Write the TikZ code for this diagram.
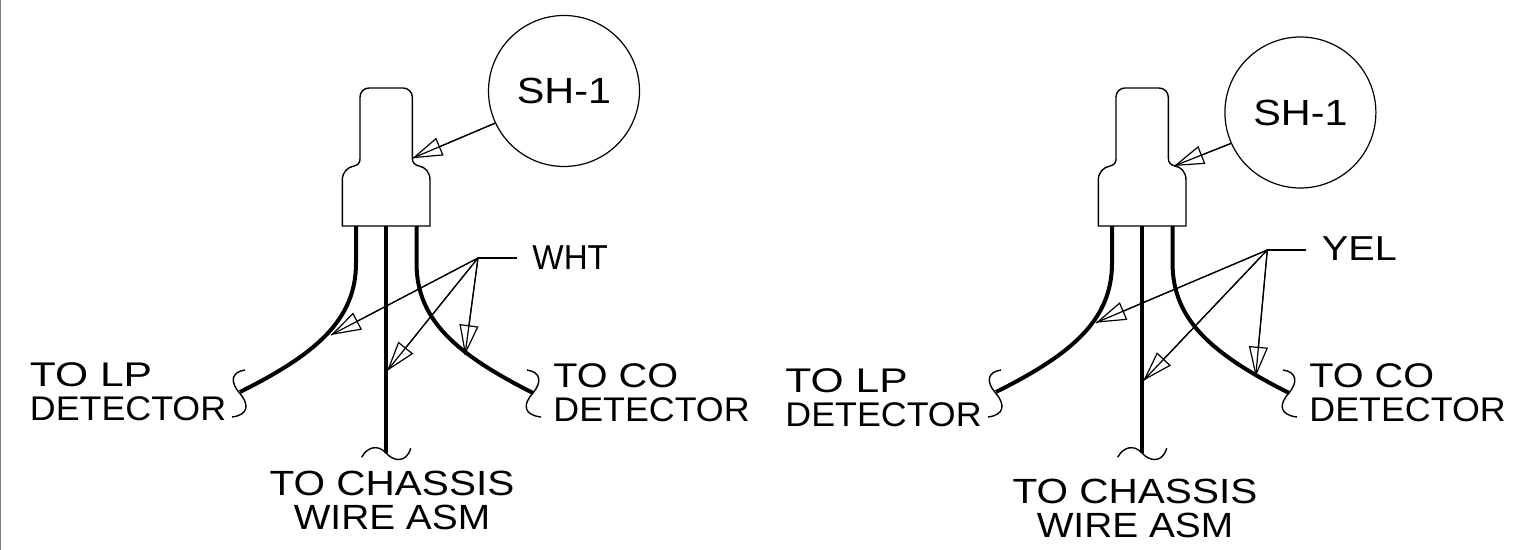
\documentclass[tikz,border=0pt]{standalone}
\usepackage{graphicx}
\usepackage{fontspec}
\setmainfont{Liberation Sans}
\usetikzlibrary{arrows.meta}
\newcommand{\stretched}[2]{\scalebox{#1}[1]{#2}}
\tikzset{
	wire/.style={line width=2pt},
	body/.style={line width=0.7pt},
	breakline/.style={line width=0.7pt},
	leader/.style={line width=0.6pt},
	leaderhead/.style={line width=0.6pt, -{Triangle[open, length=15pt, width=9.5pt]}},
	balloon/.style={draw, circle, line width=0.6pt, minimum size=75.5pt, inner sep=0pt, font=\fontsize{18.2}{18.2}\selectfont},
	wirelabel/.style={align=left, inner sep=0pt, font=\fontsize{17.1}{17}\selectfont},
	chassislabel/.style={align=center, inner sep=0pt, font=\fontsize{17.5}{17}\selectfont},
	taglabel/.style={inner sep=0pt, font=\fontsize{17.3}{17}\selectfont}
}
\newcommand{\leaderto}[2]{%
	\draw[leader] (#1) -- (#2);
	\draw[leaderhead] (#1) -- (#2);
}
\begin{document}
\begin{tikzpicture}[x=0.5pt, y=-0.5pt]
	\useasboundingbox (0,0) rectangle (1536,550);
	\draw[gray, line width=0.8pt] (0.5,0) -- (0.5,550);

	% the two connectors are the same, 756 apart
	\foreach \ox in {0,756} {
		\begin{scope}[xshift=\ox*0.5pt]
			\draw[body] (342.3,226) -- (342.3,180)
				.. controls (342.3,172) and (348,167) .. (354,166)
				.. controls (358,165) and (360,163) .. (360,159) -- (360,97)
				.. controls (360,92) and (364,88) .. (369,88) -- (403,88)
				.. controls (408,88) and (412.3,92) .. (412.3,97) -- (412.3,158)
				.. controls (412.3,163) and (415,165) .. (419,166)
				.. controls (425,167) and (430,172) .. (430,180) -- (430,226) -- cycle;
			\draw[wire] (356,226) -- (356,263) .. controls (356,320) and (316,354) .. (240,392);
			\draw[wire] (386,226) -- (386,453);
			\draw[wire] (416.5,226) -- (416.5,263) .. controls (416.5,320) and (456,354) .. (533,393);
			\draw[breakline] (245,370) .. controls (231,372) and (230,382) .. (239.5,393)
				.. controls (250,405) and (248,415) .. (232,417);
			\draw[breakline] (527,370) .. controls (541,372) and (542,382) .. (533,393)
				.. controls (522,405) and (524,415) .. (541,417);
			\draw[breakline] (361.7,457.3) .. controls (367,447) and (378,444) .. (386,453)
				.. controls (393,461) and (406,464) .. (410.7,448.3);
		\end{scope}
	}

	% left
	\node[balloon] (balloonL) at (564,91) {\stretched{1.137}{SH-1}};
	\coordinate (tipL) at (412.3,158.3);
	\leaderto{balloonL.205}{tipL}
	\coordinate (forkL) at (478,258);
	\coordinate (endL) at (517,258);
	\coordinate (lpL) at (331,335);
	\coordinate (chL) at (387,371);
	\coordinate (coL) at (465,355);
	\draw[leader] (forkL) -- (endL);
	\leaderto{forkL}{lpL}
	\leaderto{forkL}{chL}
	\leaderto{forkL}{coL}
	\node[taglabel, anchor=base west] (wht) at (532,270) {\stretched{.96}{WHT}};
	\node[wirelabel, anchor=west] (lpTextL) at (29.5,392) {\stretched{1.245}{TO LP}\\\stretched{1.047}{DETECTOR}};
	\node[wirelabel, anchor=west] (coTextL) at (553,393) {\stretched{1.158}{TO CO}\\\stretched{1.047}{DETECTOR}};
	\node[chassislabel] (chTextL) at (392,500) {\stretched{1.158}{TO CHASSIS}\\\stretched{1.11}{WIRE ASM}};

	% right
	\node[balloon] (balloonR) at (1300.4,112.5) {\stretched{1.137}{SH-1}};
	\coordinate (tipR) at (1174,166);
	\leaderto{balloonR.204}{tipR}
	\coordinate (forkR) at (1267.3,250);
	\coordinate (endR) at (1306,250);
	\coordinate (lpR) at (1096,322.7);
	\coordinate (chR) at (1143.3,380.7);
	\coordinate (coR) at (1255.7,376.7);
	\draw[leader, line width=1pt] (forkR) -- (endR);
	\leaderto{forkR}{lpR}
	\leaderto{forkR}{chR}
	\leaderto{forkR}{coR}
	\node[taglabel, anchor=base west] (yel) at (1321.5,261) {\stretched{1.146}{YEL}};
	\node[wirelabel, anchor=west] (lpTextR) at (785,398) {\stretched{1.245}{TO LP}\\\stretched{1.047}{DETECTOR}};
	\node[wirelabel, anchor=west] (coTextR) at (1309,393) {\stretched{1.158}{TO CO}\\\stretched{1.047}{DETECTOR}};
	\node[chassislabel] (chTextR) at (1135,508) {\stretched{1.158}{TO CHASSIS}\\\stretched{1.11}{WIRE ASM}};
\end{tikzpicture}
\end{document}
